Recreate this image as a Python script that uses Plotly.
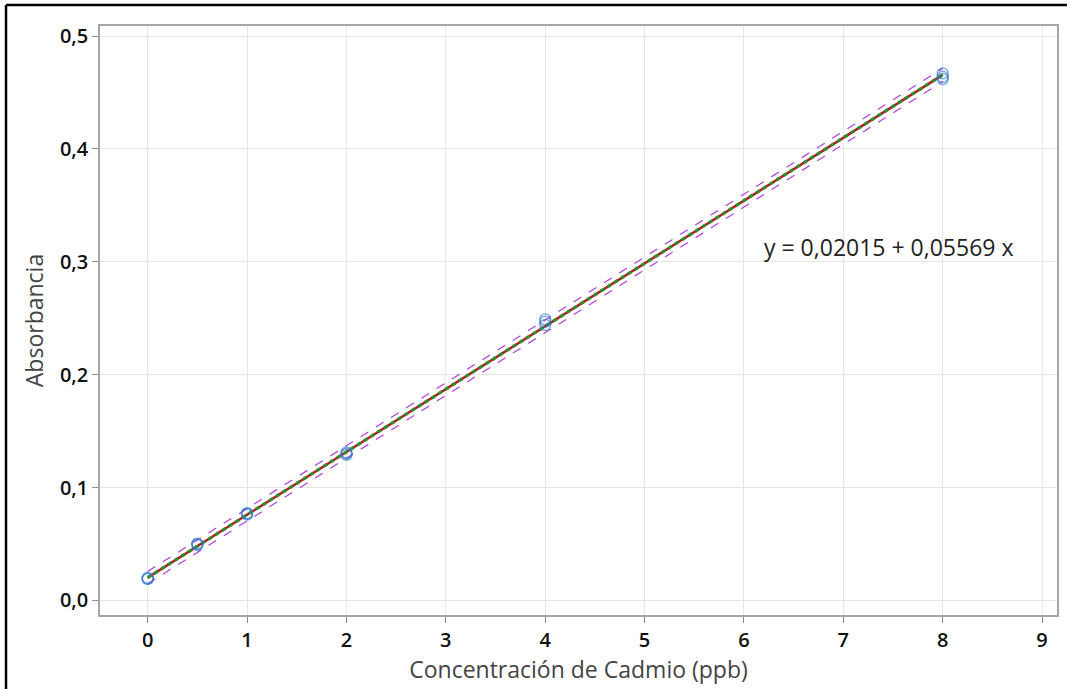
import numpy as np
import plotly.graph_objects as go

# Data
conc = [0, 0, 0, 0.5, 0.5, 0.5, 1, 1, 1, 2, 2, 2, 4, 4, 4, 8, 8, 8]
absorb = [0.019, 0.019, 0.020, 0.049, 0.050, 0.050, 0.076, 0.077, 0.077,
          0.129, 0.130, 0.131, 0.244, 0.247, 0.249, 0.462, 0.464, 0.467]
intercept = 0.02015
slope = 0.05569
x_ticks = [0, 1, 2, 3, 4, 5, 6, 7, 8, 9]
y_ticks = [0.0, 0.1, 0.2, 0.3, 0.4, 0.5]
equation = "y = 0,02015 + 0,05569 x"

x = np.array(conc, dtype=float)
y = np.array(absorb, dtype=float)
n = len(x)
resid = y - (intercept + slope * x)
s = np.sqrt(np.sum(resid ** 2) / (n - 2))
xm = x.mean()
sxx = np.sum((x - xm) ** 2)
t = 2.12
xf = np.linspace(0, 8, 60)
yf = intercept + slope * xf
half = t * s * np.sqrt(1 + 1 / n + (xf - xm) ** 2 / sxx)

fig = go.Figure()
fig.add_trace(go.Scatter(x=xf, y=yf + half, mode="lines",
                         line=dict(color="#b03fd9", width=1.2, dash="dash"), showlegend=False))
fig.add_trace(go.Scatter(x=xf, y=yf - half, mode="lines",
                         line=dict(color="#b03fd9", width=1.2, dash="dash"), showlegend=False))
fig.add_trace(go.Scatter(x=xf, y=yf, mode="lines",
                         line=dict(color="#b02020", width=2.5), showlegend=False))
fig.add_trace(go.Scatter(x=xf, y=yf, mode="lines",
                         line=dict(color="#2f8f2f", width=3.2, dash="4px,4px"), showlegend=False))
fig.add_trace(go.Scatter(x=conc, y=absorb, mode="markers",
                         marker=dict(symbol="circle-open", size=11, color="rgba(50,120,205,0.65)",
                                     line=dict(width=1.4)), showlegend=False))

fig.add_annotation(x=7.45, y=0.313, xref="x", yref="y", text=equation, showarrow=False,
                   font=dict(size=23, color="#222222", family="Open Sans"))

axis_common = dict(showgrid=True, gridcolor="#e6e6e6", gridwidth=1, zeroline=False,
                   showline=True, linecolor="#a6a6a6", linewidth=1.5, mirror=True,
                   ticks="outside", ticklen=6, tickcolor="#8c8c8c",
                   tickfont=dict(size=20, color="#111111", family="Open Sans", weight=600))

fig.update_layout(
    width=1071, height=689,
    margin=dict(l=100, r=14, t=26, b=71),
    plot_bgcolor="white", paper_bgcolor="white",
    separators=",.",
    xaxis=dict(range=[-0.48, 9.15], tickvals=x_ticks,
               title=dict(text="Concentración de Cadmio (ppb)", standoff=8,
                          font=dict(size=23, color="#444444", family="Open Sans")),
               **axis_common),
    yaxis=dict(range=[-0.013, 0.509], tickvals=y_ticks, tickformat=".1f",
               title=dict(text="Absorbancia", standoff=10,
                          font=dict(size=23, color="#444444", family="Open Sans")),
               **axis_common),
    shapes=[
        dict(type="line", xref="paper", yref="paper", x0=-0.0982, x1=-0.0982, y0=-0.2, y1=1.0355,
             line=dict(color="black", width=2.5)),
        dict(type="line", xref="paper", yref="paper", x0=-0.0982, x1=1.0104, y0=1.0355, y1=1.0355,
             line=dict(color="black", width=2.5)),
    ],
)

fig.write_html("out.html", config={"displayModeBar": False},
               post_script="document.body.style.margin='0';document.body.style.overflow='hidden';")
